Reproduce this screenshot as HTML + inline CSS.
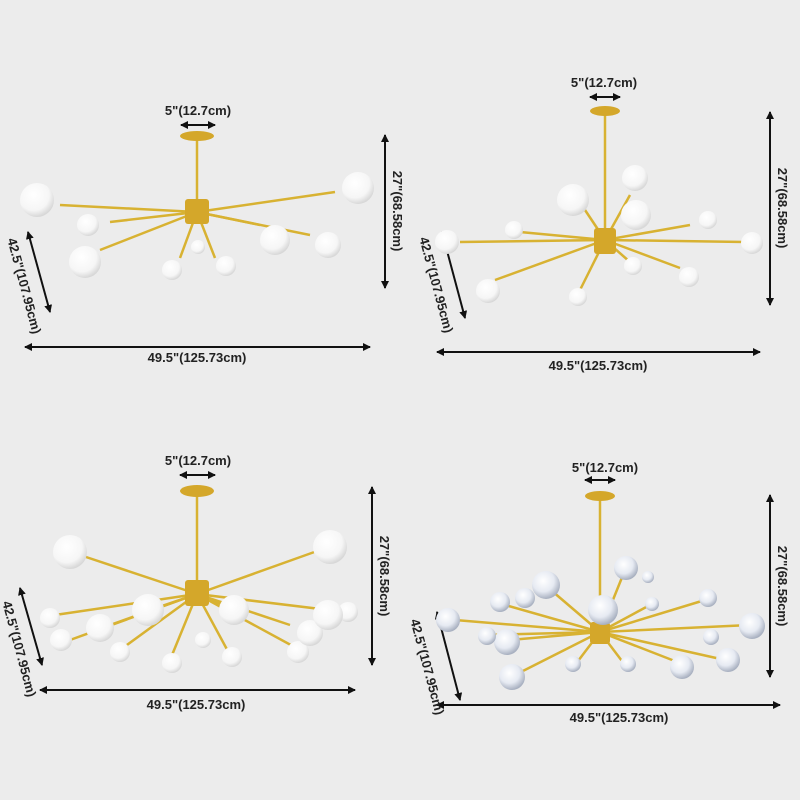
<!DOCTYPE html>
<html><head><meta charset="utf-8"><style>
html,body{margin:0;padding:0;background:#ececec;}
svg{display:block}
text{font-family:"Liberation Sans",Arial,sans-serif;font-weight:bold;font-size:13px;fill:#222}
</style></head><body>
<svg width="800" height="800" viewBox="0 0 800 800" xmlns="http://www.w3.org/2000/svg">
<defs>
<marker id="a" markerWidth="8" markerHeight="8" refX="7" refY="4" orient="auto-start-reverse" markerUnits="userSpaceOnUse"><path d="M0,0 L8,4 L0,8 z" fill="#111"/></marker>
<radialGradient id="b" cx="40%" cy="35%" r="65%"><stop offset="0" stop-color="#fff"/><stop offset="0.7" stop-color="#f6f6f6"/><stop offset="1" stop-color="#d8d8d8"/></radialGradient>
<radialGradient id="bb" cx="40%" cy="35%" r="65%"><stop offset="0" stop-color="#fff"/><stop offset="0.6" stop-color="#e6eaf2"/><stop offset="1" stop-color="#a8b0c0"/></radialGradient>
</defs>
<rect width="800" height="800" fill="#ececec"/>
<g stroke="#111" stroke-width="2" fill="none">
<line x1="181" y1="125" x2="215" y2="125" marker-start="url(#a)" marker-end="url(#a)"/>
<line x1="385" y1="135" x2="385" y2="288" marker-start="url(#a)" marker-end="url(#a)"/>
<line x1="28" y1="232" x2="50" y2="312" marker-start="url(#a)" marker-end="url(#a)"/>
<line x1="25" y1="347" x2="370" y2="347" marker-start="url(#a)" marker-end="url(#a)"/>
<line x1="590" y1="97" x2="620" y2="97" marker-start="url(#a)" marker-end="url(#a)"/>
<line x1="770" y1="112" x2="770" y2="305" marker-start="url(#a)" marker-end="url(#a)"/>
<line x1="442" y1="232" x2="465" y2="318" marker-start="url(#a)" marker-end="url(#a)"/>
<line x1="437" y1="352" x2="760" y2="352" marker-start="url(#a)" marker-end="url(#a)"/>
<line x1="180" y1="475" x2="215" y2="475" marker-start="url(#a)" marker-end="url(#a)"/>
<line x1="372" y1="487" x2="372" y2="665" marker-start="url(#a)" marker-end="url(#a)"/>
<line x1="20" y1="588" x2="42" y2="665" marker-start="url(#a)" marker-end="url(#a)"/>
<line x1="40" y1="690" x2="355" y2="690" marker-start="url(#a)" marker-end="url(#a)"/>
<line x1="585" y1="480" x2="615" y2="480" marker-start="url(#a)" marker-end="url(#a)"/>
<line x1="770" y1="495" x2="770" y2="677" marker-start="url(#a)" marker-end="url(#a)"/>
<line x1="437" y1="612" x2="460" y2="700" marker-start="url(#a)" marker-end="url(#a)"/>
<line x1="437" y1="705" x2="780" y2="705" marker-start="url(#a)" marker-end="url(#a)"/>
</g>
<text x="198" y="115" text-anchor="middle">5"(12.7cm)</text>
<text x="197" y="362" text-anchor="middle">49.5"(125.73cm)</text>
<text transform="translate(393,211) rotate(90)" text-anchor="middle">27"(68.58cm)</text>
<text transform="translate(20,287) rotate(75)" text-anchor="middle">42.5"(107.95cm)</text>
<text x="604" y="87" text-anchor="middle">5"(12.7cm)</text>
<text x="598" y="370" text-anchor="middle">49.5"(125.73cm)</text>
<text transform="translate(778,208) rotate(90)" text-anchor="middle">27"(68.58cm)</text>
<text transform="translate(432,286) rotate(75)" text-anchor="middle">42.5"(107.95cm)</text>
<text x="198" y="465" text-anchor="middle">5"(12.7cm)</text>
<text x="196" y="709" text-anchor="middle">49.5"(125.73cm)</text>
<text transform="translate(380,576) rotate(90)" text-anchor="middle">27"(68.58cm)</text>
<text transform="translate(15,650) rotate(75)" text-anchor="middle">42.5"(107.95cm)</text>
<text x="605" y="472" text-anchor="middle">5"(12.7cm)</text>
<text x="619" y="722" text-anchor="middle">49.5"(125.73cm)</text>
<text transform="translate(778,586) rotate(90)" text-anchor="middle">27"(68.58cm)</text>
<text transform="translate(423,668) rotate(75)" text-anchor="middle">42.5"(107.95cm)</text>

<g stroke="#d8b232" stroke-width="2.5" fill="none">
<line x1="197" y1="138" x2="197" y2="205"/>
<line x1="197" y1="212" x2="60" y2="205"/><line x1="197" y1="212" x2="335" y2="192"/>
<line x1="197" y1="212" x2="110" y2="222"/><line x1="197" y1="212" x2="100" y2="250"/>
<line x1="197" y1="212" x2="260" y2="225"/><line x1="197" y1="212" x2="310" y2="235"/>
<line x1="197" y1="212" x2="180" y2="258"/><line x1="197" y1="212" x2="215" y2="258"/>
<line x1="605" y1="112" x2="605" y2="232"/>
<line x1="605" y1="240" x2="460" y2="242"/><line x1="605" y1="240" x2="745" y2="242"/>
<line x1="605" y1="240" x2="520" y2="232"/><line x1="605" y1="240" x2="495" y2="280"/>
<line x1="605" y1="240" x2="690" y2="225"/><line x1="605" y1="240" x2="680" y2="268"/>
<line x1="605" y1="240" x2="585" y2="210"/><line x1="605" y1="240" x2="630" y2="195"/>
<line x1="605" y1="240" x2="580" y2="290"/><line x1="605" y1="240" x2="630" y2="262"/>
<line x1="197" y1="493" x2="197" y2="588"/>
<line x1="197" y1="594" x2="80" y2="555"/><line x1="197" y1="594" x2="320" y2="550"/>
<line x1="197" y1="594" x2="55" y2="615"/><line x1="197" y1="594" x2="345" y2="612"/>
<line x1="197" y1="594" x2="70" y2="640"/><line x1="197" y1="594" x2="300" y2="650"/>
<line x1="197" y1="594" x2="110" y2="625"/><line x1="197" y1="594" x2="290" y2="625"/>
<line x1="197" y1="594" x2="150" y2="610"/><line x1="197" y1="594" x2="235" y2="610"/>
<line x1="197" y1="594" x2="120" y2="650"/><line x1="197" y1="594" x2="170" y2="660"/>
<line x1="197" y1="594" x2="230" y2="655"/>
<line x1="600" y1="498" x2="600" y2="625"/>
<line x1="600" y1="632" x2="455" y2="620"/><line x1="600" y1="632" x2="750" y2="625"/>
<line x1="600" y1="632" x2="545" y2="585"/><line x1="600" y1="632" x2="625" y2="570"/>
<line x1="600" y1="632" x2="505" y2="605"/><line x1="600" y1="632" x2="705" y2="600"/>
<line x1="600" y1="632" x2="510" y2="640"/><line x1="600" y1="632" x2="725" y2="660"/>
<line x1="600" y1="632" x2="515" y2="675"/><line x1="600" y1="632" x2="685" y2="665"/>
<line x1="600" y1="632" x2="575" y2="665"/><line x1="600" y1="632" x2="625" y2="665"/>
<line x1="600" y1="632" x2="650" y2="605"/><line x1="600" y1="632" x2="485" y2="635"/>
</g>
<g fill="#d4a72a">
<ellipse cx="197" cy="136" rx="17" ry="5"/><rect x="185" y="199" width="24" height="25" rx="3"/>
<ellipse cx="605" cy="111" rx="15" ry="5"/><rect x="594" y="228" width="22" height="26" rx="3"/>
<ellipse cx="197" cy="491" rx="17" ry="6"/><rect x="185" y="580" width="24" height="26" rx="3"/>
<ellipse cx="600" cy="496" rx="15" ry="5"/><rect x="590" y="622" width="20" height="22" rx="3"/>
</g>
<g fill="url(#b)">
<circle cx="37" cy="200" r="17"/><circle cx="358" cy="188" r="16"/>
<circle cx="88" cy="225" r="11"/><circle cx="85" cy="262" r="16"/>
<circle cx="275" cy="240" r="15"/><circle cx="328" cy="245" r="13"/>
<circle cx="172" cy="270" r="10"/><circle cx="226" cy="266" r="10"/><circle cx="198" cy="247" r="7"/>
<circle cx="447" cy="242" r="12"/><circle cx="752" cy="243" r="11"/>
<circle cx="514" cy="230" r="9"/><circle cx="488" cy="291" r="12"/>
<circle cx="708" cy="220" r="9"/><circle cx="689" cy="277" r="10"/>
<circle cx="573" cy="200" r="16"/><circle cx="635" cy="178" r="13"/><circle cx="636" cy="215" r="15"/>
<circle cx="578" cy="297" r="9"/><circle cx="633" cy="266" r="9"/>
<circle cx="70" cy="552" r="17"/><circle cx="330" cy="547" r="17"/>
<circle cx="50" cy="618" r="10"/><circle cx="348" cy="612" r="10"/>
<circle cx="61" cy="640" r="11"/><circle cx="298" cy="652" r="11"/>
<circle cx="100" cy="628" r="14"/><circle cx="310" cy="633" r="13"/><circle cx="328" cy="615" r="15"/>
<circle cx="148" cy="610" r="16"/><circle cx="234" cy="610" r="15"/>
<circle cx="120" cy="652" r="10"/><circle cx="172" cy="663" r="10"/><circle cx="232" cy="657" r="10"/><circle cx="203" cy="640" r="8"/>
</g>
<g fill="url(#bb)">
<circle cx="448" cy="620" r="12"/><circle cx="752" cy="626" r="13"/>
<circle cx="546" cy="585" r="14"/><circle cx="626" cy="568" r="12"/><circle cx="603" cy="610" r="15"/>
<circle cx="500" cy="602" r="10"/><circle cx="525" cy="598" r="10"/><circle cx="708" cy="598" r="9"/>
<circle cx="507" cy="642" r="13"/><circle cx="487" cy="636" r="9"/>
<circle cx="728" cy="660" r="12"/><circle cx="711" cy="637" r="8"/>
<circle cx="512" cy="677" r="13"/><circle cx="682" cy="667" r="12"/>
<circle cx="573" cy="664" r="8"/><circle cx="628" cy="664" r="8"/><circle cx="652" cy="604" r="7"/><circle cx="648" cy="577" r="6"/>
</g>
</svg>
</body></html>
